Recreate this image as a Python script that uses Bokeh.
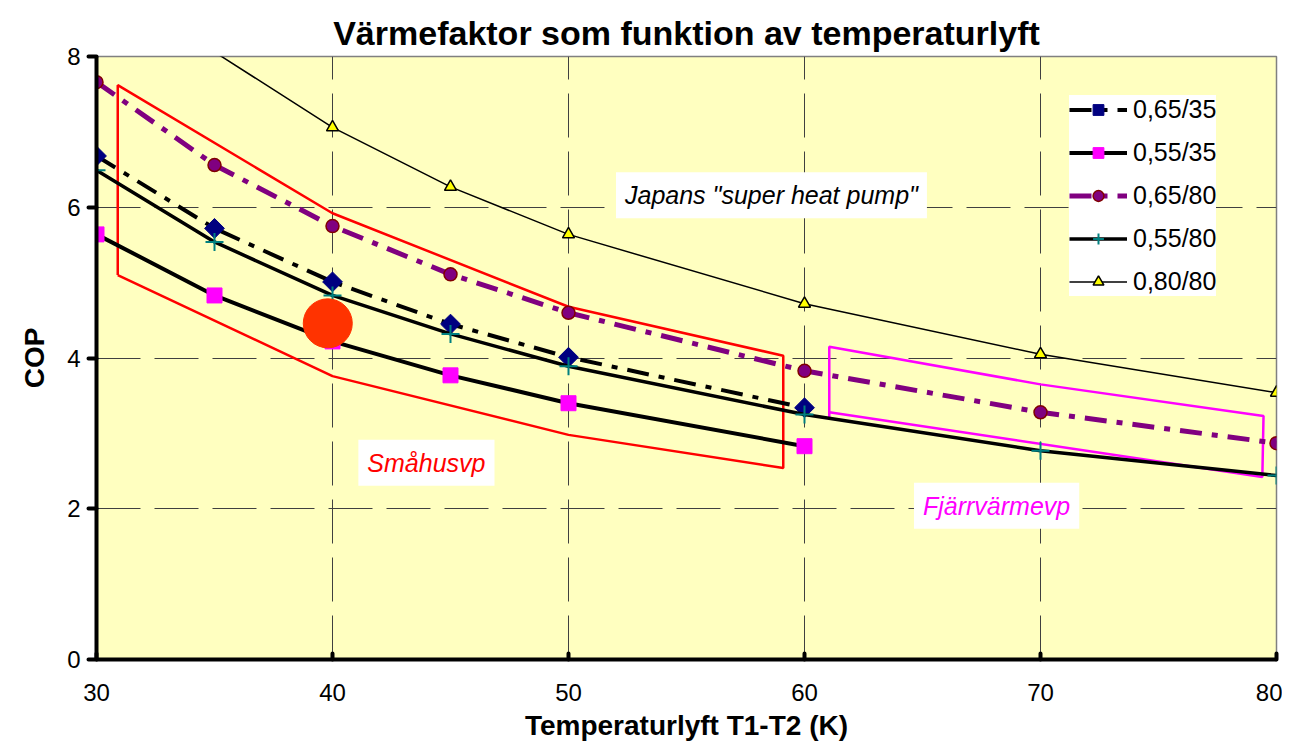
from bokeh.plotting import figure
from bokeh.models import FixedTicker, Label, Legend, LegendItem, Range1d
from bokeh.embed import file_html
from bokeh.resources import INLINE
import numpy as np

# ---- data ----
x_all = [30, 35, 40, 45, 50, 60, 70, 80]
x_35 = [30, 35, 40, 45, 50, 60]
cop_065_35 = [6.68, 5.72, 5.01, 4.45, 4.01, 3.34]
cop_055_35 = [5.64, 4.83, 4.22, 3.77, 3.40, 2.83]
cop_065_80 = [7.66, 6.56, 5.75, 5.11, 4.60, 3.83, 3.28, 2.87]
cop_055_80 = [6.49, 5.54, 4.83, 4.32, 3.89, 3.25, 2.77, 2.44]
cop_080_80 = [9.44, 8.06, 7.06, 6.27, 5.64, 4.72, 4.05, 3.54]

smahus_x = [30.9, 30.9, 40, 50, 59.1, 59.1, 50, 40, 30.9]
smahus_y = [5.10, 7.62, 5.92, 4.68, 4.03, 2.54, 2.98, 3.76, 5.10]
fjv_x = [61.05, 61.05, 70, 79.45, 79.4, 61.05]
fjv_y = [3.18, 4.15, 3.65, 3.23, 2.42, 3.28]

point_x = [39.8]
point_y = [4.46]

x_ticks = [30, 40, 50, 60, 70, 80]
y_ticks = [0, 2, 4, 6, 8]

FONT = "Liberation Sans"

p = figure(width=1282, height=743, x_range=Range1d(30, 80), y_range=Range1d(0, 8),
           output_backend="svg", toolbar_location=None,
           min_border_left=96, min_border_right=6, min_border_top=56, min_border_bottom=83,
           background_fill_color="#FFFFC0", border_fill_color="white")
p.outline_line_color = "#808080"
p.outline_line_width = 1.5

p.title.text = "Värmefaktor som funktion av temperaturlyft"
p.title.align = "center"
p.title.text_font = FONT
p.title.text_font_size = "34px"
p.title.text_font_style = "bold"
p.title.text_color = "black"

# axes
p.xaxis.ticker = FixedTicker(ticks=x_ticks)
p.yaxis.ticker = FixedTicker(ticks=y_ticks)
for ax in (p.xaxis[0], p.yaxis[0]):
    ax.axis_line_width = 4
    ax.axis_line_color = "black"
    ax.major_tick_line_width = 4
    ax.major_tick_line_cap = "round"
    ax.minor_tick_line_color = None
    ax.major_label_text_font = FONT
    ax.major_label_text_font_size = "24px"
    ax.major_label_text_color = "black"
    ax.axis_label_text_font = FONT
    ax.axis_label_text_font_style = "bold"
    ax.axis_label_text_font_size = "28px"
    ax.axis_label_text_color = "black"
p.xaxis.major_tick_in = 6
p.xaxis.major_tick_out = 0
p.xaxis.major_label_standoff = 24
p.xaxis.axis_label = "Temperaturlyft T1-T2 (K)"
p.xaxis.axis_label_standoff = 6
p.yaxis.major_tick_in = 0
p.yaxis.major_tick_out = 8
p.yaxis.major_label_standoff = 8
p.yaxis.axis_label = "COP"
p.yaxis.axis_label_standoff = 14

for g in (p.xgrid[0], p.ygrid[0]):
    g.grid_line_color = "#404040"
    g.grid_line_width = 1
    g.grid_line_dash = "44 14"

# regions
p.line(smahus_x, smahus_y, line_color="#FF0000", line_width=2.5)
p.line(fjv_x, fjv_y, line_color="#FF00FF", line_width=2.5)

# series
l1 = p.line(x_35, cop_065_35, line_color="black", line_width=4, line_dash="22 10 6 10")
m1 = p.scatter(x_35, cop_065_35, marker="square", size=14, angle=np.pi / 4,
               fill_color="#000080", line_color="#000080")

l2 = p.line(x_35, cop_055_35, line_color="black", line_width=4)
m2 = p.scatter(x_35, cop_055_35, marker="square", size=15, fill_color="#FF00FF", line_color="#FF00FF")

l3 = p.line(x_all, cop_065_80, line_color="#800080", line_width=5, line_dash="22 10 6 10")
m3 = p.scatter(x_all, cop_065_80, marker="circle", size=13, fill_color="#800080", line_color="#800000", line_width=1.5)

l4 = p.line(x_all, cop_055_80, line_color="black", line_width=3.5)
m4 = p.scatter(x_all, cop_055_80, marker="cross", size=18, line_color="#008080", line_width=2)

l5 = p.line(x_all, cop_080_80, line_color="black", line_width=1.5)
xa = np.array(x_all); ya = np.array(cop_080_80); vis = ya <= 8
m5 = p.scatter(xa[vis], ya[vis], marker="triangle", size=12, fill_color="#FFFF00", line_color="black", line_width=1.5)

p.scatter(point_x, point_y, marker="circle", size=49, fill_color="#FF3300", line_color="#FF3300")

legend = Legend(items=[
    LegendItem(label="0,65/35", renderers=[l1, m1]),
    LegendItem(label="0,55/35", renderers=[l2, m2]),
    LegendItem(label="0,65/80", renderers=[l3, m3]),
    LegendItem(label="0,55/80", renderers=[l4, m4]),
    LegendItem(label="0,80/80", renderers=[l5, m5]),
], location=(973, 363))
legend.label_text_font = FONT
legend.label_text_font_size = "25px"
legend.label_text_color = "black"
legend.glyph_width = 58
legend.glyph_height = 27
legend.label_height = 27
legend.spacing = 14
legend.padding = 8
legend.margin = 0
legend.label_standoff = 6
legend.border_line_color = None
legend.background_fill_color = "white"
legend.background_fill_alpha = 1
p.add_layout(legend)

p.add_layout(Label(x=58.6, y=6.16, text='Japans "super heat pump"', text_font=FONT, text_color="black",
                   text_font_style="italic", text_font_size="25px", text_align="center",
                   text_baseline="middle", background_fill_color="white", padding=9))
p.add_layout(Label(x=43.98, y=2.61, text="Småhusvp", text_font=FONT, text_color="#FF0000",
                   text_font_style="italic", text_font_size="25px", text_align="center",
                   text_baseline="middle", background_fill_color="white", padding=9))
p.add_layout(Label(x=68.14, y=2.04, text="Fjärrvärmevp", text_font=FONT, text_color="#FF00FF",
                   text_font_style="italic", text_font_size="25px", text_align="center",
                   text_baseline="middle", background_fill_color="white", padding=9))

open("out.html", "w").write(file_html(p, INLINE))
